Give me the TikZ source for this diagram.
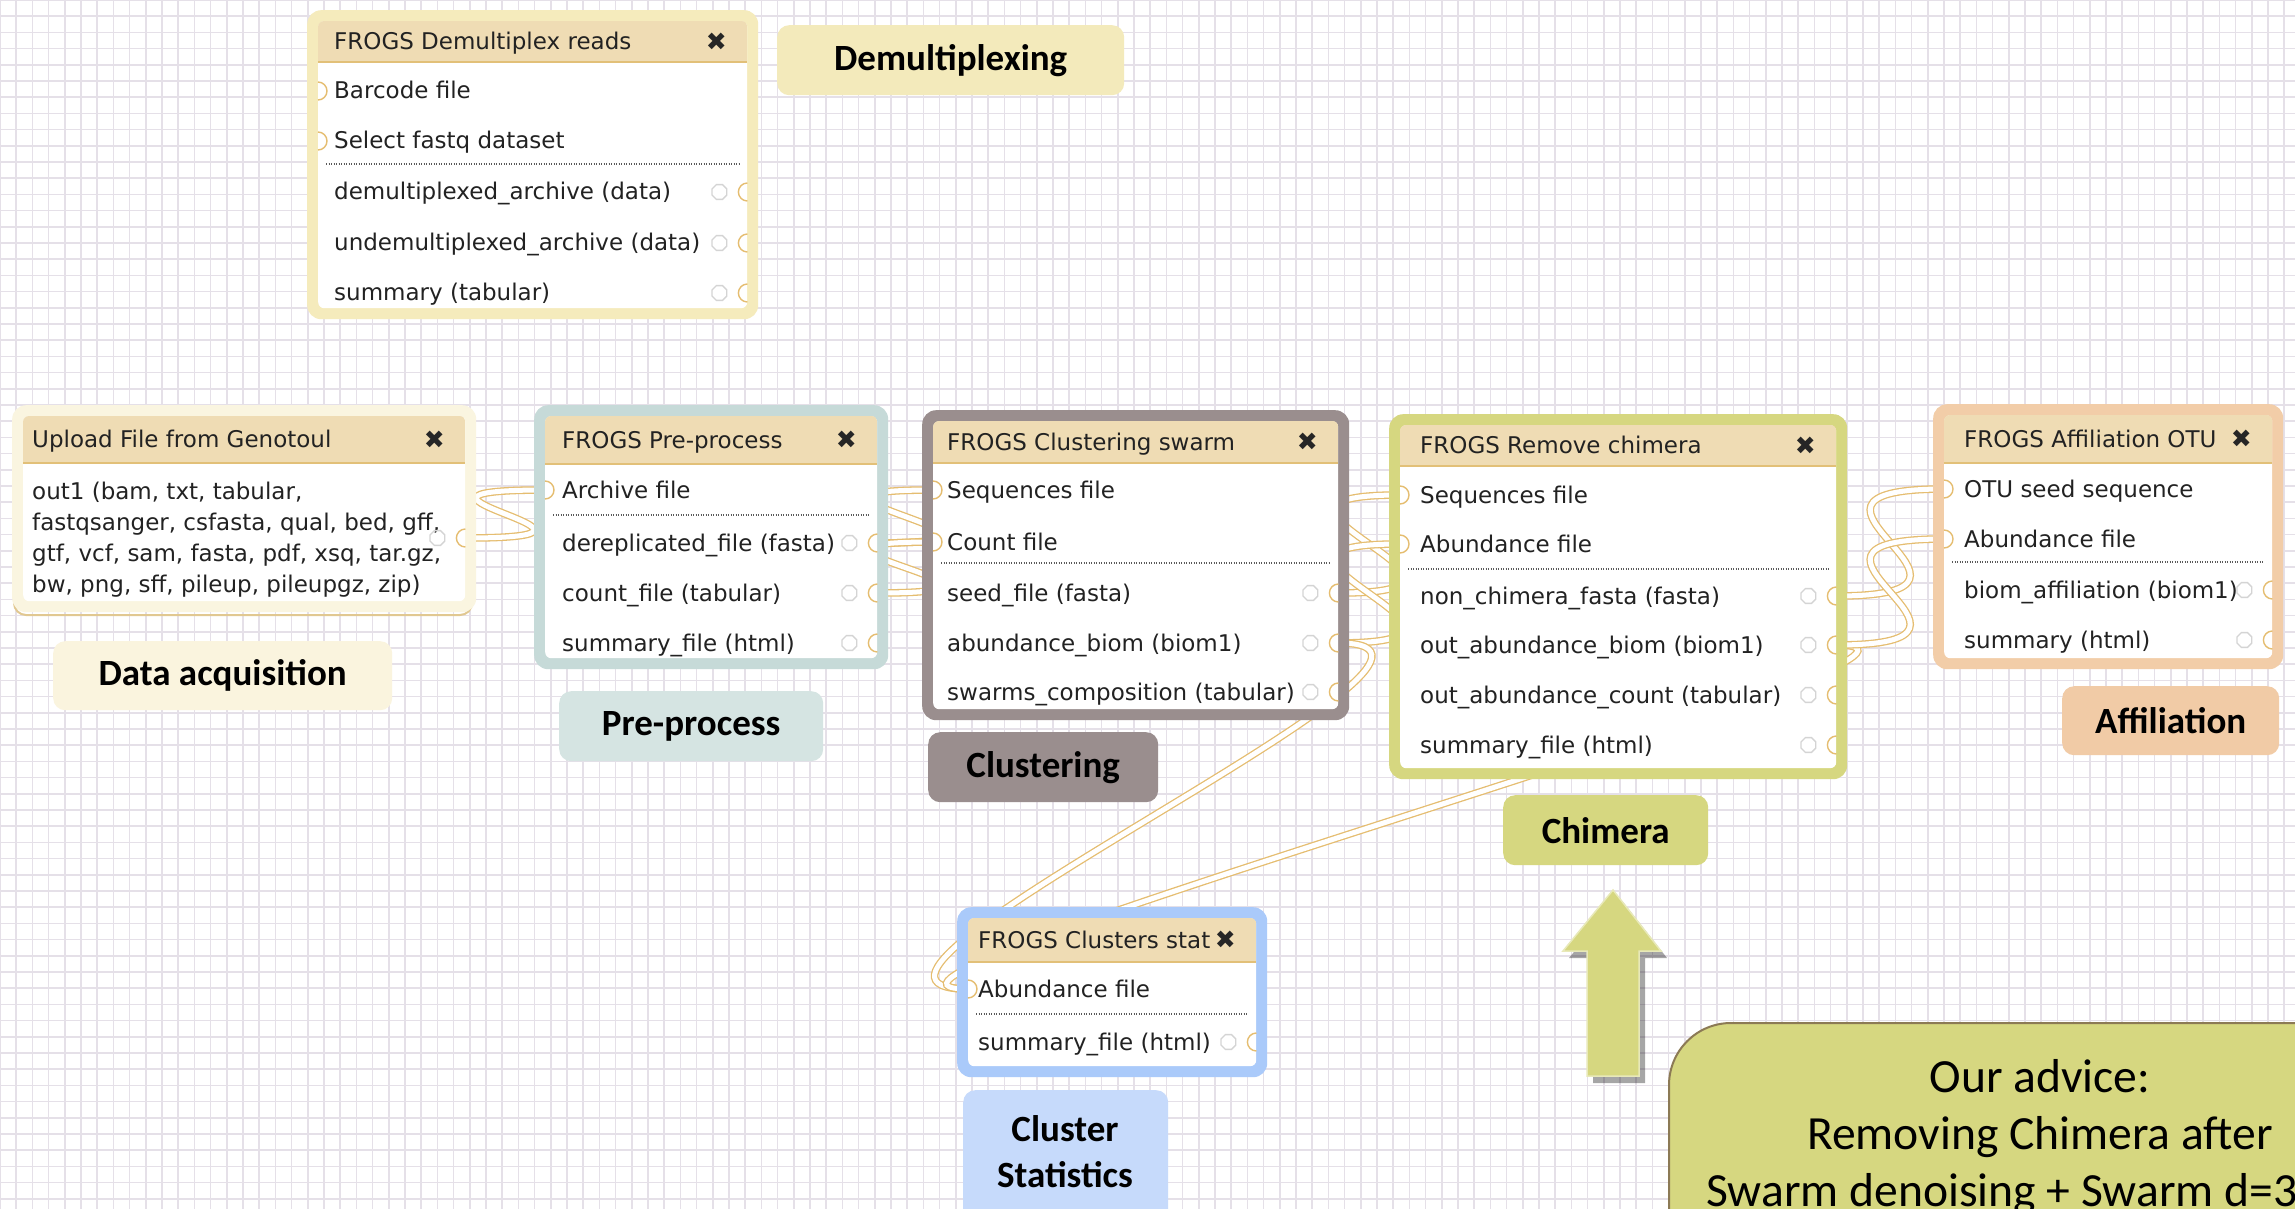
\documentclass[tikz,border=0pt]{standalone}
\usepackage{fontspec}
\setmainfont{DejaVu Sans}
\newfontfamily\calib{Carlito}
\usetikzlibrary{calc,shapes.geometric}
\definecolor{gridc}{RGB}{229,224,232}
\definecolor{wgold}{RGB}{229,189,112}
\definecolor{hdr}{RGB}{239,220,180}
\definecolor{hdrline}{RGB}{226,192,120}
\definecolor{rowc}{RGB}{34,34,34}
\definecolor{sepc}{RGB}{90,90,90}
\definecolor{gearc}{RGB}{212,212,212}
\definecolor{cDemux}{RGB}{245,235,188}
\definecolor{cUpload}{RGB}{250,245,224}
\definecolor{cPre}{RGB}{198,218,216}
\definecolor{cClust}{RGB}{154,142,142}
\definecolor{cChim}{RGB}{214,215,128}
\definecolor{cAff}{RGB}{242,205,168}
\definecolor{cStat}{RGB}{170,202,250}
\definecolor{lDemux}{RGB}{243,234,187}
\definecolor{lData}{RGB}{250,244,222}
\definecolor{lPre}{RGB}{213,228,226}
\definecolor{lStat}{RGB}{198,218,251}
\definecolor{lAff}{RGB}{241,203,166}
\definecolor{advB}{RGB}{140,122,85}
\definecolor{upShadow}{RGB}{225,200,145}
\pgfdeclarelayer{gridlayer}
\pgfdeclarelayer{wirelayer}
\pgfsetlayers{gridlayer,wirelayer,main}

\tikzset{
  gridline/.style={draw=gridc, line width=1.6},
  outerbox/.style={rounded corners=14, anchor=north west, inner sep=0},
  panel/.style={fill=white, rounded corners=6, anchor=north west, inner sep=0},
  hdrrule/.style={draw=hdrline, line width=2},
  rowtxt/.style={font=\fontsize{23}{31}\selectfont, text=rowc, anchor=base west, inner sep=0},
  closex/.style={font=\fontsize{25}{25}\selectfont, text=black!85, inner sep=0},
  sepline/.style={draw=sepc, line width=1.2, dash pattern=on 1.2pt off 1.3pt},
  term/.style={draw=wgold, line width=1.4},
  gear/.style={regular polygon, regular polygon sides=8, draw=gearc, line width=1.3, minimum size=16, inner sep=0},
  conn/.style={draw=wgold, line width=1.3, double=white, double distance=5},
  lbl/.style={rounded corners=12, anchor=north west, inner sep=0, font=\calib\bfseries\fontsize{37}{46}\selectfont, align=center, text=black},
}

% #1 name #2 x1 #3 y1 #4 x2 #5 y2 #6 colour #7 title #8 title x #9 header height
\newcommand\wfbox[9]{%
  \pgfmathsetmacro\wbw{#4-(#2)}%
  \pgfmathsetmacro\wbh{#5-(#3)}%
  \pgfmathsetmacro\wiw{\wbw-22}%
  \pgfmathsetmacro\wih{\wbh-22}%
  \pgfmathsetmacro\whh{#9/2}%
  \node[outerbox, fill=#6, minimum width=\wbw, minimum height=\wbh] (#1) at (#2,#3) {};
  \node[panel, minimum width=\wiw, minimum height=\wih] (#1-in) at ({#2+11},{#3+11}) {};
  \begin{scope}
    \clip[rounded corners=6] (#1-in.north west) rectangle (#1-in.south east);
    \fill[hdr] (#1-in.north west) rectangle ($(#1-in.north east)+(0,#9)$);
  \end{scope}
  \draw[hdrrule] ($(#1-in.north west)+(0,#9)$) -- ($(#1-in.north east)+(0,#9)$);
  \node[rowtxt] (#1-title) at (#8,{#3+11+\whh+8}) {#7};
  \node[closex] (#1-x) at ($(#1-in.north east)+(-31,\whh)$) {\char"2716};
}
\newcommand\rowt[4]{\node[rowtxt] (#1) at (#2,{#3+8}) {#4};}
\newcommand\dotsep[2]{\draw[sepline] ($(#1-in.west |- 0,#2)+(8,0)$) -- ($(#1-in.east |- 0,#2)+(-8,0)$);}
\newcommand\interm[3]{\coordinate (#1) at (#2-in.west |- 0,#3);}
\newcommand\outterm[3]{\coordinate (#1) at (#2-in.east |- 0,#3);}
\newcommand\inarc[1]{\draw[term] ([yshift=-9pt]#1) arc[start angle=-90,end angle=90,radius=9pt];}
\newcommand\outarc[1]{\draw[term] ([yshift=-9pt]#1) arc[start angle=-90,end angle=-270,radius=9pt];
  \node[gear] (#1-g) at ($(#1)+(-28,0)$) {};}

\begin{document}
\begin{tikzpicture}[x=1pt,y=-1pt]
\useasboundingbox (0,0) rectangle (2295,1209);
\begin{pgfonlayer}{gridlayer}
  \fill[white] (0,0) rectangle (2295,1209);
  \foreach \gx in {0,16.2,...,2300} {\draw[gridline] (\gx,0) -- (\gx,1209);}
  \foreach \gy in {0,16.2,...,1215} {\draw[gridline] (0,\gy) -- (2295,\gy);}
\end{pgfonlayer}

% ---------- workflow boxes ----------
\wfbox{demux}{307}{10}{758}{319}{cDemux}{FROGS Demultiplex reads}{334}{41}
\rowt{demux-r1}{334}{91}{Barcode file}
\rowt{demux-r2}{334}{141}{Select fastq dataset}
\dotsep{demux}{164}
\rowt{demux-r3}{334}{192}{demultiplexed\_archive (data)}
\rowt{demux-r4}{334}{243}{undemultiplexed\_archive (data)}
\rowt{demux-r5}{334}{293}{summary (tabular)}
\interm{demux-i1}{demux}{91}
\interm{demux-i2}{demux}{141}
\outterm{demux-o1}{demux}{192}
\outterm{demux-o2}{demux}{243}
\outterm{demux-o3}{demux}{293}

\draw[draw=upShadow, line width=2, rounded corners=12] (14,414) rectangle (472,615);
\wfbox{upload}{12}{405}{476}{612}{cUpload}{Upload File from Genotoul}{32}{47}
\node[rowtxt, anchor=north west, align=left] (upload-r1) at (32,482)
  {out1 (bam, txt, tabular,\\fastqsanger, csfasta, qual, bed, gff,\\gtf, vcf, sam, fasta, pdf, xsq, tar.gz,\\bw, png, sff, pileup, pileupgz, zip)};
\outterm{upload-o1}{upload}{538}

\wfbox{pre}{534}{405}{888}{669}{cPre}{FROGS Pre-process}{562}{48}
\rowt{pre-r1}{562}{490}{Archive file}
\dotsep{pre}{515}
\rowt{pre-r2}{562}{543}{dereplicated\_file (fasta)}
\rowt{pre-r3}{562}{593}{count\_file (tabular)}
\rowt{pre-r4}{562}{643}{summary\_file (html)}
\interm{pre-i1}{pre}{490}
\outterm{pre-o1}{pre}{543}
\outterm{pre-o2}{pre}{593}
\outterm{pre-o3}{pre}{643}

\wfbox{clust}{922}{410}{1349}{720}{cClust}{FROGS Clustering swarm}{947}{42}
\rowt{clust-r1}{947}{490}{Sequences file}
\rowt{clust-r2}{947}{542}{Count file}
\dotsep{clust}{563}
\rowt{clust-r3}{947}{593}{seed\_file (fasta)}
\rowt{clust-r4}{947}{643}{abundance\_biom (biom1)}
\rowt{clust-r5}{947}{692}{swarms\_composition (tabular)}
\interm{clust-i1}{clust}{490}
\interm{clust-i2}{clust}{542}
\outterm{clust-o1}{clust}{593}
\outterm{clust-o2}{clust}{643}
\outterm{clust-o3}{clust}{692}

\wfbox{chim}{1389}{414}{1847}{779}{cChim}{FROGS Remove chimera}{1420}{41}
\rowt{chim-r1}{1420}{495}{Sequences file}
\rowt{chim-r2}{1420}{544}{Abundance file}
\dotsep{chim}{569}
\rowt{chim-r3}{1420}{596}{non\_chimera\_fasta (fasta)}
\rowt{chim-r4}{1420}{645}{out\_abundance\_biom (biom1)}
\rowt{chim-r5}{1420}{695}{out\_abundance\_count (tabular)}
\rowt{chim-r6}{1420}{745}{summary\_file (html)}
\interm{chim-i1}{chim}{495}
\interm{chim-i2}{chim}{544}
\outterm{chim-o1}{chim}{596}
\outterm{chim-o2}{chim}{645}
\outterm{chim-o3}{chim}{695}
\outterm{chim-o4}{chim}{745}

\wfbox{aff}{1933}{404}{2283}{669}{cAff}{FROGS Affiliation OTU}{1964}{48}
\rowt{aff-r1}{1964}{489}{OTU seed sequence}
\rowt{aff-r2}{1964}{539}{Abundance file}
\dotsep{aff}{562}
\rowt{aff-r3}{1964}{590}{biom\_affiliation (biom1)}
\rowt{aff-r4}{1964}{640}{summary (html)}
\interm{aff-i1}{aff}{489}
\interm{aff-i2}{aff}{539}
\outterm{aff-o1}{aff}{590}
\outterm{aff-o2}{aff}{640}

\wfbox{stat}{957}{907}{1267}{1077}{cStat}{FROGS Clusters stat}{978}{44}
\rowt{stat-r1}{978}{989}{Abundance file}
\dotsep{stat}{1014}
\rowt{stat-r2}{978}{1042}{summary\_file (html)}
\interm{stat-i1}{stat}{989}
\outterm{stat-o1}{stat}{1042}

% ---------- connectors (under the boxes) ----------
\begin{pgfonlayer}{wirelayer}
  \draw[conn] (upload-o1) .. controls +(200,0) and +(-200,0) .. (pre-i1);
  \draw[conn] (pre-o1) .. controls +(200,0) and +(-200,0) .. (clust-i1);
  \draw[conn] (pre-o2) .. controls +(200,0) and +(-200,0) .. (clust-i2);
  \draw[conn] (clust-o1) .. controls +(200,0) and +(-200,0) .. (chim-i1);
  \draw[conn] (clust-o2) .. controls +(200,0) and +(-200,0) .. (chim-i2);
  \draw[conn] (clust-o2) .. controls +(200,0) and +(-200,0) .. (stat-i1);
  \draw[conn] (chim-o2) .. controls +(200,0) and +(-200,0) .. (stat-i1);
  \draw[conn] (chim-o1) .. controls +(200,0) and +(-200,0) .. (aff-i1);
  \draw[conn] (chim-o2) .. controls +(200,0) and +(-200,0) .. (aff-i2);
\end{pgfonlayer}

% ---------- terminals ----------
\inarc{demux-i1}\inarc{demux-i2}
\outarc{demux-o1}\outarc{demux-o2}\outarc{demux-o3}
\outarc{upload-o1}
\inarc{pre-i1}
\outarc{pre-o1}\outarc{pre-o2}\outarc{pre-o3}
\inarc{clust-i1}\inarc{clust-i2}
\outarc{clust-o1}\outarc{clust-o2}\outarc{clust-o3}
\inarc{chim-i1}\inarc{chim-i2}
\outarc{chim-o1}\outarc{chim-o2}\outarc{chim-o3}\outarc{chim-o4}
\inarc{aff-i1}\inarc{aff-i2}
\outarc{aff-o1}\outarc{aff-o2}
\inarc{stat-i1}
\outarc{stat-o1}

% ---------- step labels ----------
\node[lbl, fill=lDemux, minimum width=347, minimum height=70] (lab-demux) at (777,25) {Demultiplexing};
\node[lbl, fill=lData, minimum width=339, minimum height=69] (lab-data) at (53,641) {Data acquisition};
\node[lbl, fill=lPre, minimum width=264, minimum height=70] (lab-pre) at (559,691) {Pre-process};
\node[lbl, fill=cClust, minimum width=230, minimum height=70] (lab-clust) at (928,732) {Clustering};
\node[lbl, fill=cChim, minimum width=205, minimum height=70] (lab-chim) at (1503,795) {Chimera};
\node[lbl, fill=lAff, minimum width=217, minimum height=69] (lab-aff) at (2062,686) {Affiliation};
\node[lbl, fill=lStat, minimum width=205, minimum height=160] (lab-stat) at (963,1090) {};
\node[font=\calib\bfseries\fontsize{37}{46}\selectfont, align=center, inner sep=0] (lab-stat-t) at (1065,1152) {Cluster\\Statistics};

% ---------- arrow ----------
\fill[black, opacity=0.35] (1619,897) -- (1667,958) -- (1645,958) -- (1645,1083) -- (1593,1083) -- (1593,958) -- (1569,958) -- cycle;
\filldraw[fill=cChim, draw=cChim!55!white, line width=1.5] (1613,890) -- (1661,951) -- (1639,951) -- (1639,1076) -- (1587,1076) -- (1587,951) -- (1563,951) -- cycle;

% ---------- advice ----------
\node[fill=cChim, draw=advB, line width=2, rounded corners=62, anchor=north west, minimum width=720, minimum height=300, inner sep=0] (advice) at (1668,1022) {};
\node[font=\calib\fontsize{47.6}{57}\selectfont, align=center, inner sep=0] (advice-t) at (2040,1137) {Our advice:\\Removing Chimera after\\Swarm denoising + Swarm d=3\hspace*{76pt}};
\end{tikzpicture}
\end{document}
